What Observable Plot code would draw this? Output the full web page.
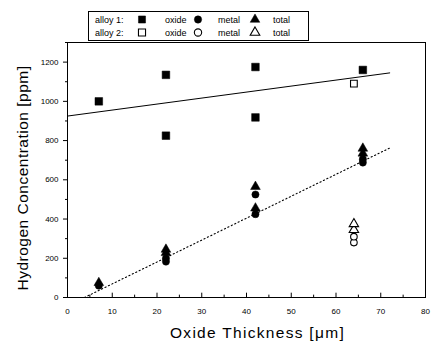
<!DOCTYPE html>
<html>
<head>
<meta charset="utf-8">
<script src="https://cdn.jsdelivr.net/npm/d3@7"></script>
<script src="https://cdn.jsdelivr.net/npm/@observablehq/plot@0.6"></script>
<style>
  html, body { margin: 0; padding: 0; background: #fff; }
  #wrap { position: relative; width: 434px; height: 341px; font-family: "Liberation Sans", Arial, sans-serif; }
  #legend { position: absolute; left: 88px; top: 11px; }
</style>
</head>
<body>
<div id="wrap">
  <div id="chart"></div>
  <svg id="legend" width="222" height="31"></svg>
</div>
<script>
// ---- data ----
const a1OxideX = [7, 22, 22, 42, 42, 66];
const a1OxideY = [1000, 1135, 825, 1175, 918, 1160];
const a1MetalX = [7, 22, 22, 42, 42, 66, 66];
const a1MetalY = [60, 200, 183, 525, 425, 705, 688];
const a1TotalX = [7, 22, 22, 42, 42, 66, 66];
const a1TotalY = [75, 245, 228, 565, 455, 760, 735];
const a2OxideX = [64];
const a2OxideY = [1090];
const a2MetalX = [64, 64];
const a2MetalY = [280, 310];
const a2TotalX = [64, 64];
const a2TotalY = [345, 375];
// fit lines (endpoints)
const oxideFitX = [0, 72];
const oxideFitY = [925, 1145];
const totalFitX = [3.8, 72];
const totalFitY = [0, 762];
// ticks
const xTicks = [0, 10, 20, 30, 40, 50, 60, 70, 80];
const xMinor = [5, 15, 25, 35, 45, 55, 65, 75];
const yTicks = [0, 200, 400, 600, 800, 1000, 1200];
const yMinor = [100, 300, 500, 700, 900, 1100, 1300];
const xTitle = "Oxide Thickness [\u03bcm]";
const yTitle = "Hydrogen Concentration [ppm]";
const legendRows = [
  {label: "alloy 1:", filled: true},
  {label: "alloy 2:", filled: false}
];
const legendItems = [
  {symbol: "square", name: "oxide"},
  {symbol: "circle", name: "metal"},
  {symbol: "triangle", name: "total"}
];

const pts = (xs, ys) => xs.map((x, i) => ({x, y: ys[i]}));

const filled = {fill: "black", stroke: "black", strokeWidth: 0.5};
const open = {fill: "white", stroke: "black", strokeWidth: 1.1};

const chart = Plot.plot({
  width: 434,
  height: 341,
  marginLeft: 67,
  marginRight: 9,
  marginTop: 42,
  marginBottom: 44,
  style: {fontFamily: "'Liberation Sans', Arial, sans-serif", background: "white", color: "black"},
  x: {domain: [0, 80]},
  y: {domain: [0, 1300]},
  marks: [
    Plot.frame({stroke: "black", strokeWidth: 1}),
    Plot.axisY({ticks: yTicks, tickSize: 4, tickPadding: 5, fontSize: 8, label: null, tickFormat: d3.format("d")}),
    Plot.axisY({ticks: yMinor, tickSize: 2, tickFormat: () => "", label: null}),
    Plot.axisX({ticks: xTicks, tickSize: 0, tickPadding: 11, fontSize: 8, label: null, tickFormat: d3.format("d")}),
    Plot.ruleX(xTicks, {x: d => d, y1: 0, y2: 22, stroke: "black"}),
    Plot.ruleX(xMinor, {x: d => d, y1: 0, y2: 12, stroke: "black"}),
    Plot.line(pts(oxideFitX, oxideFitY), {x: "x", y: "y", stroke: "black", strokeWidth: 1}),
    Plot.line(pts(totalFitX, totalFitY), {x: "x", y: "y", stroke: "black", strokeWidth: 1.1, strokeDasharray: "1.2,2.6"}),
    Plot.dot(pts(a1OxideX, a1OxideY), {x: "x", y: "y", symbol: "square", r: 4.3, ...filled}),
    Plot.dot(pts(a1MetalX, a1MetalY), {x: "x", y: "y", symbol: "circle", r: 3.6, ...filled}),
    Plot.dot(pts(a1TotalX, a1TotalY), {x: "x", y: "y", symbol: "triangle", r: 3.6, ...filled}),
    Plot.dot(pts(a2OxideX, a2OxideY), {x: "x", y: "y", symbol: "square", r: 3.8, ...open}),
    Plot.dot(pts(a2MetalX, a2MetalY), {x: "x", y: "y", symbol: "circle", r: 3.3, ...open}),
    Plot.dot(pts(a2TotalX, a2TotalY), {x: "x", y: "y", symbol: "triangle", r: 3.5, ...open}),
    Plot.text([xTitle], {text: d => d, frameAnchor: "bottom", dx: 11, dy: 36, textAnchor: "middle", lineAnchor: "middle", fontSize: 15.5, fill: "black"}),
    Plot.text([yTitle], {text: d => d, frameAnchor: "left", dx: -44, dy: 8, rotate: -90, textAnchor: "middle", lineAnchor: "middle", fontSize: 15.5, fill: "black"})
  ]
});
// letter spacing on titles
d3.select(chart).selectAll("text").filter(function() { return this.textContent === xTitle; }).style("letter-spacing", "1.3px");
d3.select(chart).selectAll("text").filter(function() { return this.textContent === yTitle; }).style("letter-spacing", "0.5px");
document.getElementById("chart").appendChild(chart);

// ---- legend ----
const leg = d3.select("#legend");
leg.append("rect").attr("x", 0.5).attr("y", 0.5).attr("width", 220).attr("height", 29)
  .attr("fill", "white").attr("stroke", "black").attr("stroke-width", 1);
const rowY = [8.5, 21.5];
const symX = [54, 110, 167];
const nameX = [77, 130, 185];
const symSize = {square: 50, circle: 42, triangle: 40};
legendRows.forEach((row, ri) => {
  leg.append("text").attr("x", 7).attr("y", rowY[ri]).attr("dy", "0.35em")
    .attr("font-size", 9).attr("font-family", "'Liberation Sans', Arial, sans-serif").text(row.label);
  legendItems.forEach((it, ii) => {
    const sym = {square: d3.symbolSquare, circle: d3.symbolCircle, triangle: d3.symbolTriangle}[it.symbol];
    leg.append("path").attr("d", d3.symbol(sym, symSize[it.symbol])())
      .attr("transform", `translate(${symX[ii]},${rowY[ri]})`)
      .attr("fill", row.filled ? "black" : "white").attr("stroke", "black").attr("stroke-width", row.filled ? 0.5 : 1.1);
    leg.append("text").attr("x", nameX[ii]).attr("y", rowY[ri]).attr("dy", "0.35em")
      .attr("font-size", 9).attr("font-family", "'Liberation Sans', Arial, sans-serif").text(it.name);
  });
});
</script>
</body>
</html>
